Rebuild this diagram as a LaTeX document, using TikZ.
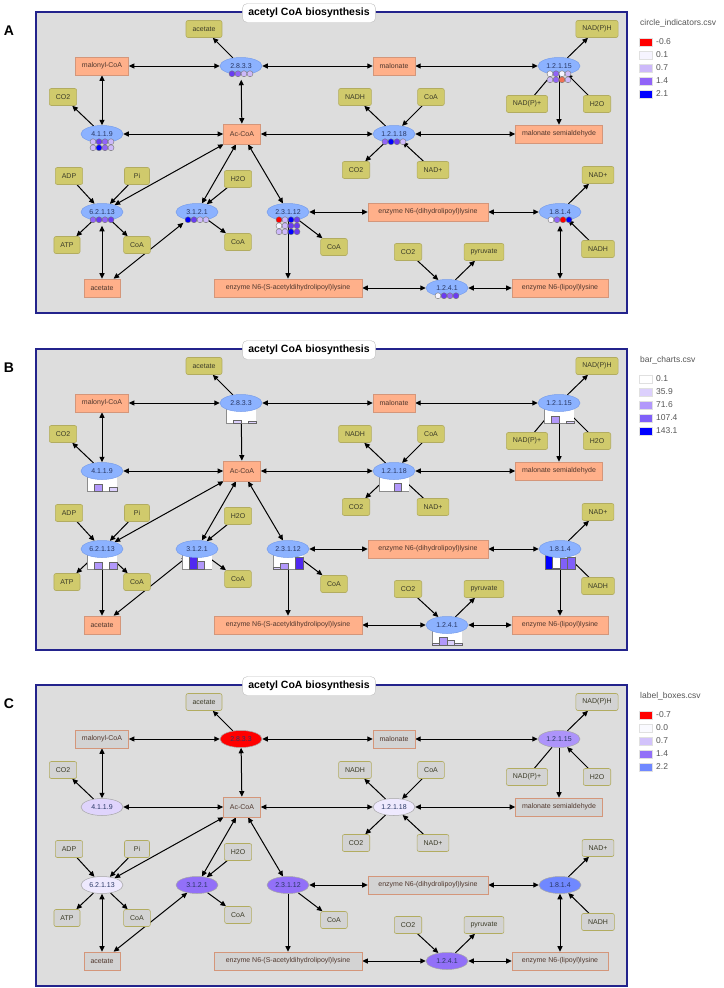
\documentclass[tikz,border=0pt]{standalone}
\usepackage{fontspec}
\setmainfont{Liberation Sans}
\usetikzlibrary{arrows.meta,calc,shapes.geometric}

\definecolor{panelbg}{RGB}{221,221,221}
\definecolor{panelline}{RGB}{35,35,140}
\definecolor{sidefill}{RGB}{208,202,108}
\definecolor{sideline}{RGB}{178,172,96}
\definecolor{sidetext}{RGB}{60,60,40}
\definecolor{cpdfill}{RGB}{255,176,138}
\definecolor{cpdline}{RGB}{212,150,122}
\definecolor{cpdtext}{RGB}{80,55,45}
\definecolor{enzfill}{RGB}{140,178,255}
\definecolor{enzline}{RGB}{118,156,235}
\definecolor{enztext}{RGB}{40,55,100}
\definecolor{cgray}{RGB}{211,211,211}
\definecolor{legtext}{RGB}{85,85,85}
% value colours
\definecolor{vred}{RGB}{255,0,0}
\definecolor{vorange}{RGB}{240,112,84}
\definecolor{vwhite}{RGB}{246,244,255}
\definecolor{vlav}{RGB}{205,185,250}
\definecolor{vpur}{RGB}{145,100,248}
\definecolor{vdeep}{RGB}{106,60,242}
\definecolor{vblue}{RGB}{0,0,255}
\definecolor{blav}{RGB}{220,208,253}
\definecolor{bmid}{RGB}{178,152,251}
\definecolor{bpur}{RGB}{128,96,249}
\definecolor{bdeep}{RGB}{80,40,240}
\definecolor{lwhite}{RGB}{250,250,255}
\definecolor{llav}{RGB}{210,194,251}
\definecolor{lpur}{RGB}{146,112,248}
\definecolor{lblue}{RGB}{112,136,255}

\newcommand{\netfont}{\fontsize{7}{8}\selectfont}

\pgfdeclarelayer{frame}
\pgfdeclarelayer{edges}
\pgfdeclarelayer{bars}
\pgfsetlayers{frame,edges,bars,main}

% frame, title and letter of one panel
\newcommand{\panelframe}[1]{%
  \begin{pgfonlayer}{frame}
    \draw[panelbox] (36,12) rectangle (627,313);
  \end{pgfonlayer}
  \node[paneltitle] (title) at (309,13) {acetyl CoA biosynthesis};
  \node[tag] (tag) at (9,31) {#1};
}

% colour key right of a panel
\newcommand{\scalelegend}[2]{%
  \node[legtitle] (legt) at (640,23) {#1};
  \foreach \c/\v [count=\i] in {#2} {
    \filldraw[fill=\c, draw=black!12] (639,38+13*\i-13) rectangle +(13,8);
    \node[legval] (leg\i) at (656,42+13*\i-13) {\v};
  }
}

% one row of circle indicators under an enzyme
\newcommand{\indrow}[3]{%
  \foreach \c [count=\i] in {#3}
    \filldraw[ind, fill=\c] ($(#1.south)+(\i*6-15,#2*6-1)$) circle (3pt);
}

% small bar chart under an enzyme
\newcommand{\barbox}[2]{%
  \begin{pgfonlayer}{bars}
    \fill[white] ($(#1)+(-15,4)$) rectangle ($(#1)+(15,20)$);
    \draw[barbase] ($(#1)+(-15,4)$) -- ($(#1)+(-15,20)$) -- ($(#1)+(15,20)$);
    \foreach \s/\h/\c in {#2}
      \filldraw[barcol, fill=\c] ($(#1)+(-22.5+7.5*\s,20)$) rectangle ++(7.5,-\h);
  \end{pgfonlayer}
}

% the pathway itself
\newcommand{\acetylnet}{%
  % main compounds
  \node[cpd] (malcoa) at (102,66) {malonyl-CoA};
  \node[cpd] (malon) at (394,66) {malonate};
  \node[cpd, minimum height=20] (accoa) at (242,134) {Ac-CoA};
  \node[cpd] (malsa) at (559,134) {malonate semialdehyde};
  \node[cpd] (acet) at (102,288) {acetate};
  \node[cpd, minimum width=148] (sacet) at (288,288) {enzyme N6-(S-acetyldihydrolipoyl)lysine};
  \node[cpd, minimum width=120] (dihyd) at (428,212) {enzyme N6-(dihydrolipoyl)lysine};
  \node[cpd, minimum width=96] (lipoyl) at (560,288) {enzyme N6-(lipoyl)lysine};
  % side compounds
  \node[side] (acett) at (204,29) {acetate};
  \node[side] (co2a) at (63,97) {CO2};
  \node[side] (nadph) at (597,29) {NAD(P)H};
  \node[side] (nadpp) at (527,104) {NAD(P)+};
  \node[side] (h2oa) at (597,104) {H2O};
  \node[side] (nadha) at (355,97) {NADH};
  \node[side] (coaa) at (431,97) {CoA};
  \node[side] (co2b) at (356,170) {CO2};
  \node[side] (nadpa) at (433,170) {NAD+};
  \node[side] (adp) at (69,176) {ADP};
  \node[side] (pi) at (137,176) {Pi};
  \node[side] (h2ob) at (238,179) {H2O};
  \node[side] (atp) at (67,245) {ATP};
  \node[side] (coab) at (137,245) {CoA};
  \node[side] (coac) at (238,242) {CoA};
  \node[side] (coad) at (334,247) {CoA};
  \node[side] (nadpb) at (598,175) {NAD+};
  \node[side] (nadhb) at (598,249) {NADH};
  \node[side] (co2c) at (408,252) {CO2};
  \node[side] (pyr) at (484,252) {pyruvate};
  % enzymes
  \node[enz, f2833] (e2833) at (241,66) {2.8.3.3};
  \node[enz, f4119] (e4119) at (102,134) {4.1.1.9};
  \node[enz, f12115] (e12115) at (559,66) {1.2.1.15};
  \node[enz, f12118] (e12118) at (394,134) {1.2.1.18};
  \node[enz, f62113] (e62113) at (102,212) {6.2.1.13};
  \node[enz, f3121] (e3121) at (197,212) {3.1.2.1};
  \node[enz, f23112] (e23112) at (288,212) {2.3.1.12};
  \node[enz, f1814] (e1814) at (560,212) {1.8.1.4};
  \node[enz, f1241] (e1241) at (447,288) {1.2.4.1};
  \begin{pgfonlayer}{edges}
    \draw[bi] (malcoa) -- (e2833);
    \draw[uni] (e2833) -- (acett);
    \draw[bi] (e2833) -- (malon);
    \draw[bi] (malon) -- (e12115);
    \draw[uni] (e12115) -- (nadph);
    \draw[line width=1] (nadpp) -- (e12115);
    \draw[uni] (h2oa) -- (e12115);
    \draw[uni] (e12115) -- (malsa);
    \draw[bi] (malcoa) -- (e4119);
    \draw[uni] (e4119) -- (co2a);
    \draw[bi] (e4119) -- (accoa);
    \draw[bi, lowend] (e2833) -- (accoa);
    \draw[bi] (accoa) -- (e12118);
    \draw[uni] (e12118) -- (nadha);
    \draw[uni] (coaa) -- (e12118);
    \draw[bi] (e12118) -- (malsa);
    \draw[uni] (e12118) -- (co2b);
    \draw[uni] (nadpa) -- (e12118);
    \draw[uni] (adp) -- (e62113);
    \draw[uni] (pi) -- (e62113);
    \draw[bi] (accoa) -- (e62113);
    \draw[uni] (e62113) -- (atp);
    \draw[uni] (e62113) -- (coab);
    \draw[bi, lowend] (e62113) -- (acet);
    \draw[bi] (accoa) -- (e3121);
    \draw[uni] (h2ob) -- (e3121);
    \draw[uni] (e3121) -- (coac);
    \draw[bi, lowend] (e3121) -- (acet);
    \draw[bi] (accoa) -- (e23112);
    \draw[bi] (e23112) -- (dihyd);
    \draw[uni] (e23112) -- (coad);
    \draw[uni] (e23112) -- (sacet);
    \draw[bi] (sacet) -- (e1241);
    \draw[uni] (co2c) -- (e1241);
    \draw[uni] (e1241) -- (pyr);
    \draw[bi] (e1241) -- (lipoyl);
    \draw[bi] (dihyd) -- (e1814);
    \draw[uni] (e1814) -- (nadpb);
    \draw[uni] (nadhb) -- (e1814);
    \draw[bi, lowend] (e1814) -- (lipoyl);
  \end{pgfonlayer}
}

\begin{document}
\begin{tikzpicture}[x=1pt, y=-1pt,
    panelbox/.style={fill=panelbg, draw=panelline, line width=1.2},
    paneltitle/.style={fill=white, draw=black!25, rounded corners=5, minimum height=19,
      inner xsep=6, font=\fontsize{10.5}{12}\bfseries\selectfont},
    tag/.style={font=\fontsize{14}{16}\bfseries\selectfont},
    legtitle/.style={anchor=west, inner sep=0, text=legtext, font=\fontsize{8.5}{10}\selectfont},
    legval/.style={anchor=west, inner sep=0, text=legtext, font=\fontsize{8.5}{10}\selectfont},
    side/.style={draw=sideline, fill=sidefill, rounded corners=2, minimum height=17,
      minimum width=25, inner xsep=6.5, inner ysep=0, text=sidetext, font=\netfont, line width=0.6},
    cpd/.style={draw=cpdline, fill=cpdfill, minimum height=18, inner xsep=6.5, inner ysep=0,
      text=cpdtext, font=\netfont, line width=0.6},
    enz/.style={ellipse, draw=enzline, fill=enzfill, minimum width=42, minimum height=17,
      inner sep=0, text=enztext, font=\netfont, line width=0.5},
    bi/.style={{Triangle[length=5.5pt,width=5pt]}-{Triangle[length=5.5pt,width=5pt]}, line width=1},
    uni/.style={-{Triangle[length=5.5pt,width=5pt]}, line width=1},
    lowend/.style={},
    ind/.style={draw=black!55, line width=0.4},
    barbase/.style={draw=black!45, line width=0.8},
    barcol/.style={draw=black!60, line width=0.4},
    f2833/.style={}, f4119/.style={}, f12115/.style={}, f12118/.style={}, f62113/.style={},
    f3121/.style={}, f23112/.style={}, f1814/.style={}, f1241/.style={}]
\useasboundingbox (0,0) rectangle (723,988);

% A: circle indicators
\begin{scope}[lowend/.style={shorten <=5}]
  \panelframe{A}
  \acetylnet
  \indrow{e2833}{0}{vdeep,vpur,vlav,vlav}
  \indrow{e4119}{0}{vlav,vdeep,vpur,vlav}
  \indrow{e4119}{1}{vlav,vblue,vpur,vlav}
  \indrow{e12115}{0}{vwhite,vpur,vwhite,vlav}
  \indrow{e12115}{1}{vlav,vpur,vorange,vlav}
  \indrow{e12118}{0}{vpur,vblue,vdeep,vlav}
  \indrow{e62113}{0}{vpur,vdeep,vpur,vdeep}
  \indrow{e3121}{0}{vblue,vdeep,vlav,vlav}
  \indrow{e23112}{0}{vred,vlav,vblue,vdeep}
  \indrow{e23112}{1}{vwhite,vlav,vdeep,vdeep}
  \indrow{e23112}{2}{vlav,vlav,vblue,vdeep}
  \indrow{e1814}{0}{vwhite,vpur,vred,vblue}
  \indrow{e1241}{0}{vwhite,vdeep,vpur,vdeep}
  \scalelegend{circle\_indicators.csv}{vred/-0.6, vwhite/0.1, vlav/0.7, vpur/1.4, vblue/2.1}
\end{scope}

% B: bar charts
\begin{scope}[shift={(0,337)}]
  \panelframe{B}
  \acetylnet
  \barbox{e2833}{2/3/blav, 4/2/blav}
  \barbox{e4119}{2/7/bmid, 4/4/blav}
  \barbox{e12115}{2/7/bmid, 4/2/blav}
  \barbox{e12118}{3/8/bmid}
  \barbox{e62113}{2/7/bmid, 4/7/bmid}
  \barbox{e3121}{2/13/bdeep, 3/8/bmid}
  \barbox{e23112}{1/2/blav, 2/6/bmid, 4/12/bdeep}
  \barbox{e1814}{1/14/vblue, 2/1/blav, 3/11/bpur, 4/12/bpur}
  \barbox{e1241}{1/2/blav, 2/8/bmid, 3/5/blav, 4/2/blav}
  \scalelegend{bar\_charts.csv}{white/0.1, blav/35.9, bmid/71.6, bpur/107.4, vblue/143.1}
\end{scope}

% C: label boxes
\begin{scope}[shift={(0,673)},
    cpd/.append style={fill=cgray},
    side/.append style={fill=cgray},
    enz/.append style={draw=black!35},
    f2833/.style={fill=vred}, f4119/.style={fill=llav!70!white}, f12115/.style={fill=lpur!75!white},
    f12118/.style={fill=lwhite!70!llav}, f62113/.style={fill=lwhite!70!llav}, f3121/.style={fill=lpur},
    f23112/.style={fill=lpur}, f1814/.style={fill=lblue}, f1241/.style={fill=lpur}]
  \panelframe{C}
  \acetylnet
  \scalelegend{label\_boxes.csv}{vred/-0.7, lwhite/0.0, llav/0.7, lpur/1.4, lblue/2.2}
\end{scope}
\end{tikzpicture}
\end{document}
